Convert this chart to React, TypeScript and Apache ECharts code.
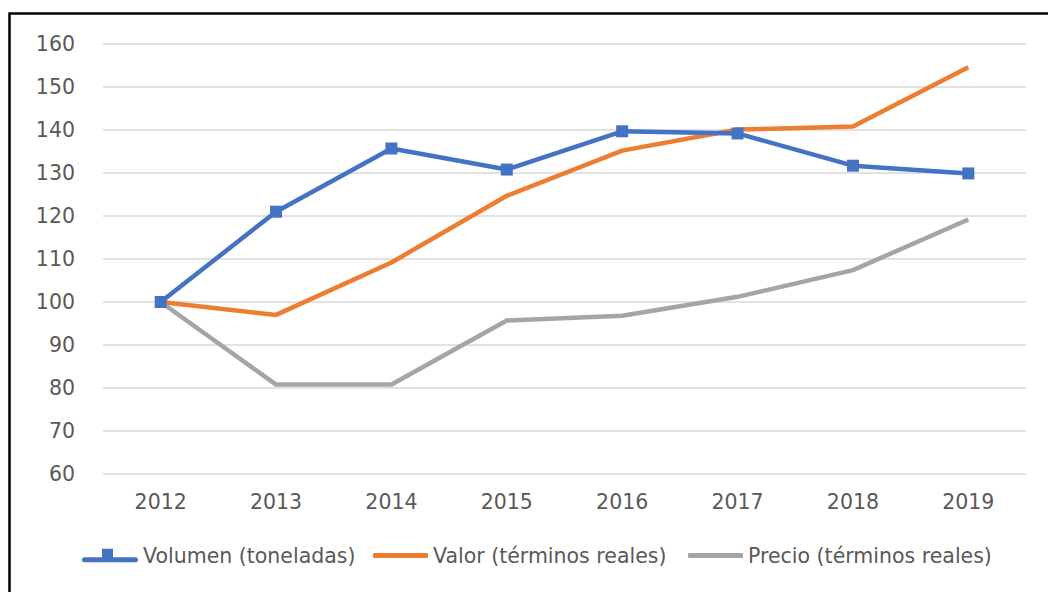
import React, { useEffect, useRef } from "react";
import * as echarts from "echarts";

const years = ["2012", "2013", "2014", "2015", "2016", "2017", "2018", "2019"];
const volumen = [100, 121, 135.7, 130.8, 139.7, 139.2, 131.7, 129.9];
const valor = [100, 97, 109.2, 124.7, 135.2, 140.1, 140.8, 154.6];
const precio = [100, 80.8, 80.8, 95.7, 96.8, 101.2, 107.4, 119.2];
const seriesNames = ["Volumen (toneladas)", "Valor (términos reales)", "Precio (términos reales)"];
const colors = ["#4472C4", "#ED7D31", "#A5A5A5"];

const volIcon =
  "path://M2.5,8.5 L53.5,8.5 A2.5,2.5 0 0 1 53.5,13.5 L2.5,13.5 A2.5,2.5 0 0 1 2.5,8.5 Z M20,0 L31,0 L31,11 L20,11 Z";

export default function App() {
  const ref = useRef<HTMLDivElement>(null);
  useEffect(() => {
    const chart = echarts.init(ref.current!, null, { renderer: "svg" });
    const font = "DejaVu Sans";
    const legendText = { color: "#595959", fontSize: 20.5, fontFamily: font };
    chart.setOption({
      animation: false,
      backgroundColor: "#ffffff",
      textStyle: { fontFamily: font },
      grid: { left: 103, right: 22, top: 44, bottom: 118 },
      xAxis: {
        type: "category",
        data: years,
        boundaryGap: true,
        axisLine: { show: false },
        axisTick: { show: false },
        axisLabel: { color: "#595959", fontSize: 20.5, fontFamily: font, margin: 17 },
      },
      yAxis: {
        type: "value",
        min: 60,
        max: 160,
        interval: 10,
        axisLine: { show: false },
        axisTick: { show: false },
        axisLabel: { color: "#595959", fontSize: 20.5, fontFamily: font, margin: 28 },
        splitLine: { lineStyle: { color: "#D9D9D9", width: 1.5 } },
      },
      legend: [
        {
          left: 82,
          top: 545,
          padding: 0,
          itemWidth: 56,
          itemHeight: 14,
          textStyle: legendText,
          data: [{ name: seriesNames[0], icon: volIcon }],
        },
        {
          left: 373,
          top: 545,
          padding: 0,
          itemWidth: 55,
          itemHeight: 5,
          textStyle: legendText,
          data: [{ name: seriesNames[1], icon: "roundRect" }],
        },
        {
          left: 688,
          top: 545,
          padding: 0,
          itemWidth: 55,
          itemHeight: 5,
          textStyle: legendText,
          data: [{ name: seriesNames[2], icon: "roundRect" }],
        },
      ],
      graphic: [
        {
          type: "rect",
          shape: { x: 9.5, y: 13.5, width: 1200, height: 800 },
          style: { fill: "none", stroke: "#000000", lineWidth: 2.5 },
          z: 100,
        },
      ],
      series: [
        {
          name: seriesNames[0],
          type: "line",
          data: volumen,
          color: colors[0],
          lineStyle: { width: 4.5, color: colors[0] },
          symbol: "rect",
          symbolSize: 12,
          itemStyle: { color: colors[0] },
          z: 3,
        },
        {
          name: seriesNames[1],
          type: "line",
          data: valor,
          color: colors[1],
          lineStyle: { width: 4.5, color: colors[1] },
          itemStyle: { color: colors[1] },
          showSymbol: false,
          symbol: "none",
          z: 2,
        },
        {
          name: seriesNames[2],
          type: "line",
          data: precio,
          color: colors[2],
          lineStyle: { width: 4.5, color: colors[2] },
          itemStyle: { color: colors[2] },
          showSymbol: false,
          symbol: "none",
          z: 1,
        },
      ],
    });
    return () => chart.dispose();
  }, []);
  return (
    <div
      ref={ref}
      style={{ position: "fixed", left: 0, top: 0, width: 1048, height: 592 }}
    />
  );
}
